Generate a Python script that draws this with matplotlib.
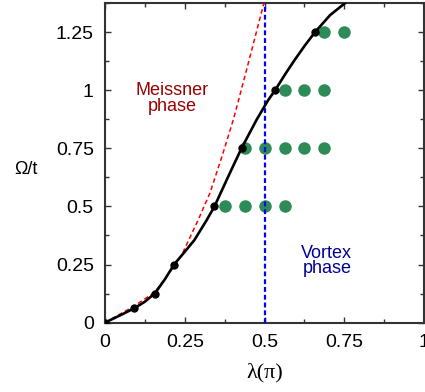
import matplotlib
matplotlib.use('Agg')
import matplotlib.pyplot as plt
from matplotlib.ticker import MultipleLocator

plt.rcParams['font.family'] = ['Liberation Sans', 'DejaVu Sans']

# phase boundary (solid black)
curve_x = [0.0, 0.05, 0.092, 0.125, 0.157, 0.187, 0.217, 0.25, 0.28, 0.319,
           0.343, 0.39, 0.428, 0.475, 0.512, 0.533, 0.565, 0.595, 0.627,
           0.658, 0.705, 0.752]
curve_y = [0.0, 0.033, 0.062, 0.09, 0.127, 0.185, 0.251, 0.305, 0.355, 0.442,
           0.5, 0.64, 0.751, 0.873, 0.959, 1.0, 1.07, 1.132, 1.194,
           1.25, 1.323, 1.375]

# computed points on the boundary
dot_x = [0.0, 0.092, 0.157, 0.217, 0.343, 0.428, 0.533, 0.658]
dot_y = [0.0, 0.0625, 0.125, 0.25, 0.5, 0.75, 1.0, 1.25]

# Meissner estimate (red dashed)
red_x = [0.0, 0.09, 0.155, 0.20, 0.24, 0.292, 0.329, 0.37, 0.402, 0.42, 0.46, 0.498]
red_y = [0.0, 0.07, 0.13, 0.21, 0.29, 0.442, 0.558, 0.73, 0.873, 0.965, 1.174, 1.376]

# vortex points (green)
vortex_x = [0.375, 0.4375, 0.5, 0.5625,
            0.4375, 0.5, 0.5625, 0.625, 0.6875,
            0.5625, 0.625, 0.6875,
            0.6875, 0.75]
vortex_y = [0.5, 0.5, 0.5, 0.5,
            0.75, 0.75, 0.75, 0.75, 0.75,
            1.0, 1.0, 1.0,
            1.25, 1.25]

lambda_c = 0.5

xticks = [0, 0.25, 0.5, 0.75, 1]
xlabels = ['0', '0.25', '0.5', '0.75', '1']
yticks = [0, 0.25, 0.5, 0.75, 1, 1.25]
ylabels = ['0', '0.25', '0.5', '0.75', '1', '1.25']

fig = plt.figure(figsize=(4.25, 3.92), dpi=100)
ax = fig.add_axes([0.247, 0.177, 0.751, 0.815])

ax.plot(vortex_x, vortex_y, 'o', color='#2e8b57', markersize=9,
        markeredgewidth=0, zorder=2)
ax.axvline(lambda_c, color='#0000ff', linestyle=(0, (2.2, 1.3)), linewidth=1.6,
           zorder=3)
ax.plot(red_x, red_y, color='#ff0000', linestyle=(0, (3, 2)), linewidth=1.1,
        zorder=3)
ax.plot(curve_x, curve_y, color='black', linewidth=1.9, zorder=4)
ax.plot(dot_x, dot_y, 'o', color='black', markersize=5, zorder=5)

ax.text(0.21, 0.965, 'Meissner\nphase', color='#990000', fontsize=13,
        ha='center', va='center', linespacing=0.9)
ax.text(0.695, 0.265, 'Vortex\nphase', color='#000099', fontsize=13,
        ha='center', va='center', linespacing=0.9)

ax.set_xlim(0, 1)
ax.set_ylim(0, 1.375)
ax.set_xticks(xticks)
ax.set_xticklabels(xlabels)
ax.set_yticks(yticks)
ax.set_yticklabels(ylabels)
ax.xaxis.set_minor_locator(MultipleLocator(0.125))
ax.yaxis.set_minor_locator(MultipleLocator(0.125))
ax.tick_params(which='both', direction='in', top=True, right=True,
               labelsize=14, color='#333333', width=1)
ax.tick_params(which='major', length=4, pad=8)
ax.tick_params(which='minor', length=3)
for sp in ax.spines.values():
    sp.set_color('#333333')
    sp.set_linewidth(1.5)

ax.set_xlabel('λ(π)', fontsize=16, family=['Liberation Serif', 'DejaVu Serif'],
              labelpad=9)
fig.text(26 / 425, 1 - 170 / 392, 'Ω/t', fontsize=13, ha='center', va='center')

fig.savefig('out.png', dpi=100)
